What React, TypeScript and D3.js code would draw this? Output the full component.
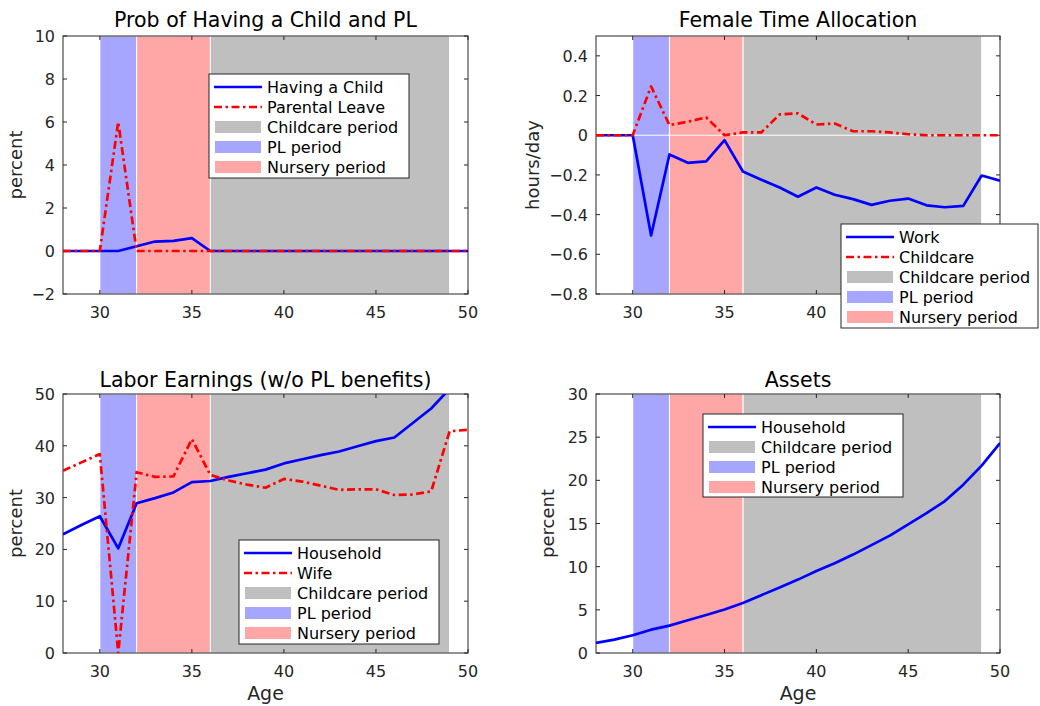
import React from 'react';
import * as d3 from 'd3';

const ages = [28, 29, 30, 31, 32, 33, 34, 35, 36, 37, 38, 39, 40, 41, 42, 43, 44, 45, 46, 47, 48, 49, 50];
const probChild = [0, 0, 0, 0, 0.22, 0.44, 0.47, 0.6, 0, 0, 0, 0, 0, 0, 0, 0, 0, 0, 0, 0, 0, 0, 0];
const probPL = [0, 0, 0, 6, 0, 0, 0, 0, 0, 0, 0, 0, 0, 0, 0, 0, 0, 0, 0, 0, 0, 0, 0];
const workHours = [0, 0, 0, -0.505, -0.097, -0.139, -0.132, -0.025, -0.183, -0.224, -0.263, -0.31, -0.263, -0.3, -0.322, -0.351, -0.33, -0.319, -0.353, -0.363, -0.356, -0.203, -0.229];
const childcareHours = [0, 0, 0, 0.246, 0.051, 0.068, 0.09, 0, 0.014, 0.014, 0.105, 0.11, 0.054, 0.059, 0.02, 0.02, 0.014, 0.005, 0, 0, 0, 0, 0];
const earnHousehold = [22.9, 24.7, 26.4, 20.2, 28.9, 29.9, 31.0, 33.0, 33.2, 34.0, 34.7, 35.4, 36.6, 37.4, 38.2, 38.9, 39.9, 40.9, 41.6, 44.4, 47.2, 51.0, 55.0];
const earnWife = [35.2, 36.8, 38.4, 0, 34.9, 34.0, 34.1, 41.3, 34.4, 33.3, 32.5, 31.9, 33.6, 33.1, 32.3, 31.5, 31.6, 31.6, 30.5, 30.6, 31.2, 42.8, 43.1];
const assetsHousehold = [1.16, 1.55, 2.05, 2.7, 3.17, 3.8, 4.4, 5.03, 5.8, 6.7, 7.6, 8.5, 9.5, 10.4, 11.4, 12.5, 13.6, 14.9, 16.2, 17.6, 19.5, 21.7, 24.3];

const xTicks = [30, 35, 40, 45, 50];
const yTicksProb = [-2, 0, 2, 4, 6, 8, 10];
const yTicksTime = [-0.8, -0.6, -0.4, -0.2, 0, 0.2, 0.4];
const yTicksEarn = [0, 10, 20, 30, 40, 50];
const yTicksAssets = [0, 5, 10, 15, 20, 25, 30];

const periodNames = ['Childcare period', 'PL period', 'Nursery period'];
const periodStart = [36, 30, 32];
const periodEnd = [49, 32, 36];
const periodColors = ['#bfbfbf', '#a6a6ff', '#ffa6a6'];

const FONT = '"DejaVu Sans", sans-serif';
const BLUE = '#0000ff';
const RED = '#ff0000';
const AX = '#262626';
const DASH = '8,3.5,2.5,3.5';
const LW = 2.7;

type Series = { name: string; values: number[]; color: string; dashed: boolean };

type PanelProps = {
  id: string;
  left: number; right: number; top: number; bottom: number;
  title: string; titleY: number;
  ylabel: string; ylabelX: number;
  xlabel?: string;
  yDomain: [number, number];
  yTicks: number[];
  series: Series[];
  legend: { x: number; y: number; w: number; h: number };
  zeroLine?: boolean;
};

const fmt = (v: number) => (v < 0 ? '\u2212' + String(Math.abs(v)) : String(v));

function Panel(p: PanelProps) {
  const x = d3.scaleLinear().domain([28, 50]).range([p.left, p.right]);
  const y = d3.scaleLinear().domain(p.yDomain).range([p.bottom, p.top]);
  const line = d3.line<number>().x((_, i) => x(ages[i])).y((d) => y(d));
  const tl = 4;
  const legendItems: { kind: 'line' | 'patch'; name: string; color: string; dashed?: boolean }[] = [
    ...p.series.map((s) => ({ kind: 'line' as const, name: s.name, color: s.color, dashed: s.dashed })),
    ...periodNames.map((n, i) => ({ kind: 'patch' as const, name: n, color: periodColors[i] })),
  ];
  const cx = (p.left + p.right) / 2;
  const cy = (p.top + p.bottom) / 2;
  return (
    <g>
      <defs>
        <clipPath id={p.id}>
          <rect x={p.left} y={p.top} width={p.right - p.left} height={p.bottom - p.top} />
        </clipPath>
      </defs>
      {periodNames.map((n, i) => (
        <rect key={n} x={x(periodStart[i])} y={p.top} width={x(periodEnd[i]) - x(periodStart[i])}
          height={p.bottom - p.top} fill={periodColors[i]} stroke="#ffffff" strokeWidth={1} />
      ))}
      {p.zeroLine && (
        <line x1={x(30)} x2={x(49)} y1={y(0)} y2={y(0)} stroke="#ffffff" strokeWidth={1} />
      )}
      <rect x={p.left} y={p.top} width={p.right - p.left} height={p.bottom - p.top} fill="none" stroke={AX} strokeWidth={1} />
      {xTicks.map((t) => (
        <g key={'xt' + t}>
          <line x1={x(t)} x2={x(t)} y1={p.bottom} y2={p.bottom - tl} stroke={AX} />
          <line x1={x(t)} x2={x(t)} y1={p.top} y2={p.top + tl} stroke={AX} />
          <text x={x(t)} y={p.bottom + 24} textAnchor="middle" fontSize={16} fill={AX} fontFamily={FONT}>{t}</text>
        </g>
      ))}
      {p.yTicks.map((t) => (
        <g key={'yt' + t}>
          <line x1={p.left} x2={p.left + tl} y1={y(t)} y2={y(t)} stroke={AX} />
          <line x1={p.right} x2={p.right - tl} y1={y(t)} y2={y(t)} stroke={AX} />
          <text x={p.left - 8} y={y(t) + 6} textAnchor="end" fontSize={16} fill={AX} fontFamily={FONT}>{fmt(t)}</text>
        </g>
      ))}
      <g clipPath={`url(#${p.id})`}>
        {p.series.map((s) => (
          <path key={s.name} d={line(s.values) || ''} fill="none" stroke={s.color} strokeWidth={LW}
            strokeDasharray={s.dashed ? DASH : undefined} strokeLinejoin="round" />
        ))}
      </g>
      <text x={cx} y={p.titleY} textAnchor="middle" fontSize={20.5} fill="#000" fontFamily={FONT}>{p.title}</text>
      <text transform={`translate(${p.ylabelX},${cy}) rotate(-90)`} textAnchor="middle" fontSize={18} fill={AX} fontFamily={FONT}>{p.ylabel}</text>
      {p.xlabel && (
        <text x={cx} y={700} textAnchor="middle" fontSize={19} fill={AX} fontFamily={FONT}>{p.xlabel}</text>
      )}
      <g>
        <rect x={p.legend.x} y={p.legend.y} width={p.legend.w} height={p.legend.h} fill="#ffffff" stroke={AX} strokeWidth={1} />
        {legendItems.map((it, i) => {
          const ry = p.legend.y + 13 + i * 20;
          return (
            <g key={it.name}>
              {it.kind === 'line' ? (
                <line x1={p.legend.x + 5} x2={p.legend.x + 53} y1={ry} y2={ry} stroke={it.color} strokeWidth={LW}
                  strokeDasharray={it.dashed ? DASH : undefined} />
              ) : (
                <rect x={p.legend.x + 6} y={ry - 6} width={46} height={12} fill={it.color} />
              )}
              <text x={p.legend.x + 58} y={ry + 6} fontSize={16} fill="#000" fontFamily={FONT}>{it.name}</text>
            </g>
          );
        })}
      </g>
    </g>
  );
}

export default function App() {
  return (
    <svg width={1040} height={706} style={{ position: 'absolute', left: 0, top: 0, background: '#fff' }}>
      <rect x={0} y={0} width={1040} height={706} fill="#ffffff" />
      <Panel id="c1" left={63} right={468} top={36} bottom={294}
        title="Prob of Having a Child and PL" titleY={27}
        ylabel="percent" ylabelX={22}
        yDomain={[-2, 10]} yTicks={yTicksProb}
        series={[
          { name: 'Having a Child', values: probChild, color: BLUE, dashed: false },
          { name: 'Parental Leave', values: probPL, color: RED, dashed: true },
        ]}
        legend={{ x: 209, y: 74, w: 200, h: 104 }} />
      <Panel id="c2" left={596} right={1000} top={36} bottom={294}
        title="Female Time Allocation" titleY={27}
        ylabel="hours/day" ylabelX={539}
        yDomain={[-0.8, 0.5]} yTicks={yTicksTime}
        series={[
          { name: 'Work', values: workHours, color: BLUE, dashed: false },
          { name: 'Childcare', values: childcareHours, color: RED, dashed: true },
        ]}
        legend={{ x: 841, y: 224, w: 197, h: 104 }} zeroLine />
      <Panel id="c3" left={63} right={468} top={394} bottom={653}
        title="Labor Earnings (w/o PL benefits)" titleY={387}
        ylabel="percent" ylabelX={22} xlabel="Age"
        yDomain={[0, 50]} yTicks={yTicksEarn}
        series={[
          { name: 'Household', values: earnHousehold, color: BLUE, dashed: false },
          { name: 'Wife', values: earnWife, color: RED, dashed: true },
        ]}
        legend={{ x: 239, y: 540, w: 200, h: 104 }} />
      <Panel id="c4" left={596} right={1000} top={394} bottom={653}
        title="Assets" titleY={387}
        ylabel="percent" ylabelX={554} xlabel="Age"
        yDomain={[0, 30]} yTicks={yTicksAssets}
        series={[
          { name: 'Household', values: assetsHousehold, color: BLUE, dashed: false },
        ]}
        legend={{ x: 703, y: 414, w: 200, h: 83 }} />
    </svg>
  );
}
